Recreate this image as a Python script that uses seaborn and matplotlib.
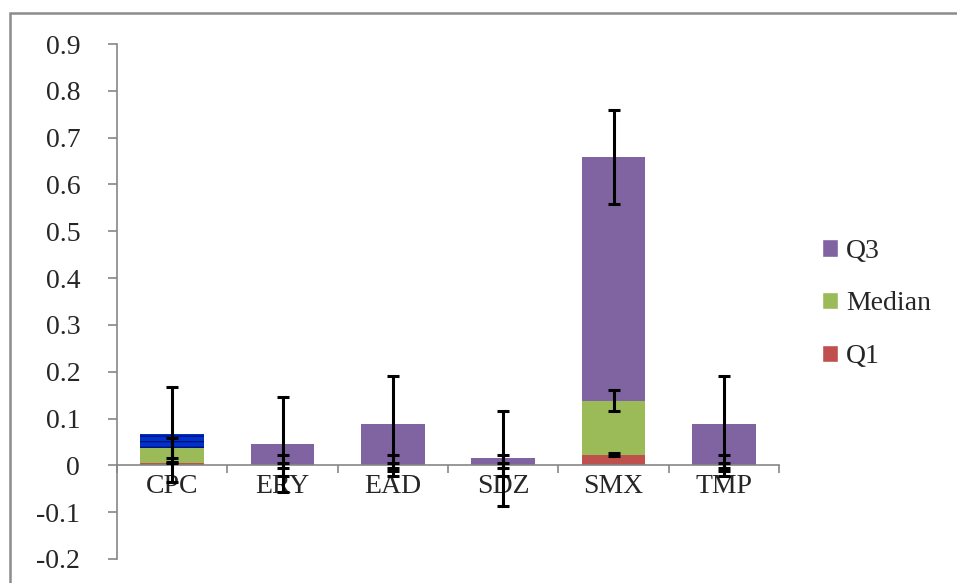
import numpy as np
import pandas as pd
import matplotlib
matplotlib.use('Agg')
import matplotlib.pyplot as plt
import seaborn as sns
from matplotlib.patches import Rectangle, Patch
from matplotlib.ticker import FuncFormatter

compounds = ['CPC', 'ERY', 'EAD', 'SDZ', 'SMX', 'TMP']
# stacked series values (segment heights)
q1 = [0.006, 0.0, 0.0, 0.0, 0.023, 0.0]
median = [0.031, 0.0, 0.0, 0.0, 0.115, 0.0]
q3 = [0.029, 0.045, 0.089, 0.015, 0.520, 0.089]
# error bar half widths
q1_err = [0.001, 0.005, 0.005, 0.005, 0.004, 0.005]
median_err = [0.021, 0.023, 0.023, 0.023, 0.022, 0.023]
q3_err = [0.102, 0.101, 0.101, 0.101, 0.100, 0.101]

c_q1 = '#C0504D'
c_med = '#9BBB59'
c_q3 = '#8064A2'
grey = '#868686'
fs = 20

sns.set_style('white')
plt.rcParams['font.family'] = ['Liberation Serif', 'DejaVu Serif']
plt.rcParams['axes.unicode_minus'] = False

df = pd.DataFrame({'compound': compounds, 'q1': q1, 'median': median, 'q3': q3})
df['top_q1'] = df['q1']
df['top_med'] = df['q1'] + df['median']
df['top_q3'] = df['top_med'] + df['q3']

fig = plt.figure(figsize=(9.57, 5.83), dpi=100)
ax = fig.add_axes([117/957, 1-559/583, (779-117)/957, (559-44)/583])

# draw cumulative tops back to front so the segments look stacked
for col, colr in [('top_q3', c_q3), ('top_med', c_med), ('top_q1', c_q1)]:
    sns.barplot(data=df, x='compound', y=col, color=colr, saturation=1,
                width=0.58, linewidth=0, ax=ax, order=compounds)

# CPC Q3 segment shown highlighted in blue in the original
hl = ax.patches[0]
hl.set_facecolor('#0033CC')
hl.set_edgecolor('#00107A')
hl.set_hatch('---')
hl.set_linewidth(0)

xpos = np.arange(len(compounds))
for col, err in [('top_q3', q3_err), ('top_med', median_err), ('top_q1', q1_err)]:
    ax.errorbar(xpos, df[col], yerr=err, fmt='none', ecolor='black',
                elinewidth=2.2, capsize=4.5, capthick=2.2, zorder=5)

ax.set_xlim(-0.5, 5.5)
ax.set_ylim(-0.2, 0.9)
ax.set_xlabel('')
ax.set_ylabel('')

ax.spines['top'].set_visible(False)
ax.spines['right'].set_visible(False)
ax.spines['bottom'].set_position(('data', 0))
for s in ['left', 'bottom']:
    ax.spines[s].set_color(grey)
    ax.spines[s].set_linewidth(1.2)

ax.set_xticks(np.arange(-0.5, 6, 1))
ax.set_xticklabels([])
ax.set_xticks(xpos, minor=True)
ax.set_xticklabels(compounds, minor=True)
ax.tick_params(axis='x', which='major', bottom=True, direction='out', length=6,
               width=1.2, color=grey)
ax.tick_params(axis='x', which='minor', bottom=True, length=0, pad=6, labelsize=fs)

ax.set_yticks(np.round(np.arange(-0.2, 0.91, 0.1), 1))
ax.yaxis.set_major_formatter(FuncFormatter(lambda v, p: f'{round(v, 1):g}'))
ax.tick_params(axis='y', left=True, direction='out', length=6.5, width=1.2, color=grey,
               pad=20, labelsize=fs)

handles = [Patch(facecolor=c_q3, label='Q3'), Patch(facecolor=c_med, label='Median'),
           Patch(facecolor=c_q1, label='Q1')]
fig.legend(handles=handles, loc='center left', bbox_to_anchor=(822/957, 1-304/583),
           frameon=False, fontsize=fs, handlelength=0.58, handleheight=0.58,
           handletextpad=0.28, labelspacing=1.0, borderpad=0, borderaxespad=0)

frame = Rectangle((10/957, -0.1), 1.0, 1-13/583+0.1, transform=fig.transFigure,
                  fill=False, edgecolor='#8C8C8C', linewidth=1.8)
fig.patches.append(frame)

fig.savefig('out.png', dpi=100)
